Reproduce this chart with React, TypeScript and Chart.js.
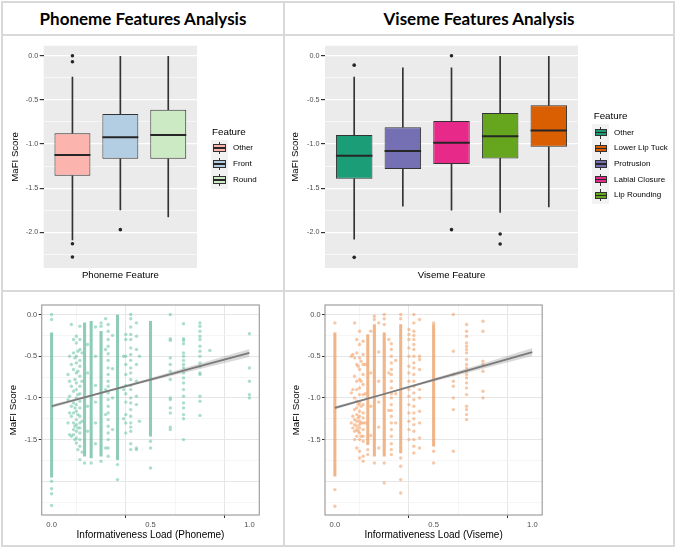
import React, { useEffect, useRef } from 'react';
import { Chart, registerables } from 'chart.js';

Chart.register(...registerables);

// ---------------- Box plot data ----------------
const PHONEME_CATEGORIES = ['Other', 'Front', 'Round'];
const PHONEME_COLORS = ['#FBB4AE', '#B3CDE3', '#CCEBC5'];
const PHONEME_Q1 = [-1.359, -1.167, -1.167];
const PHONEME_MEDIAN = [-1.125, -0.922, -0.896];
const PHONEME_Q3 = [-0.877, -0.659, -0.61];
const PHONEME_WHISKER_LO = [-2.085, -1.746, -1.825];
const PHONEME_WHISKER_HI = [-0.24, 0.0, 0.0];
const PHONEME_OUTLIERS = [[0.0, -0.068, -2.13, -2.28], [-1.97], []];

const VISEME_CATEGORIES = ['Other', 'Protrusion', 'Labial Closure', 'Lip Rounding', 'Lower Lip Tuck'];
const VISEME_COLORS = ['#1B9E77', '#7570B3', '#E7298A', '#66A61E', '#D95F02'];
const VISEME_Q1 = [-1.393, -1.283, -1.227, -1.163, -1.031];
const VISEME_MEDIAN = [-1.133, -1.08, -0.986, -0.911, -0.847];
const VISEME_Q3 = [-0.896, -0.809, -0.738, -0.647, -0.561];
const VISEME_WHISKER_LO = [-2.077, -1.705, -1.75, -1.776, -1.712];
const VISEME_WHISKER_HI = [-0.241, -0.135, -0.135, 0.0, 0.0];
const VISEME_OUTLIERS = [[-0.106, -2.284], [], [0.0, -1.97], [-2.02, -2.133], []];

const PHONEME_LEGEND = ['Other', 'Front', 'Round'];
const PHONEME_LEGEND_COLORS = ['#FBB4AE', '#B3CDE3', '#CCEBC5'];
const VISEME_LEGEND = ['Other', 'Lower Lip Tuck', 'Protrusion', 'Labial Closure', 'Lip Rounding'];
const VISEME_LEGEND_COLORS = ['#1B9E77', '#D95F02', '#7570B3', '#E7298A', '#66A61E'];

// ---------------- Axis ticks ----------------
const SCORE_GRID = [0, -0.25, -0.5, -0.75, -1, -1.25, -1.5, -1.75, -2, -2.25];
const BOX_SCORE_LABELS = [0, -0.5, -1, -1.5, -2];
const SCATTER_SCORE_LABELS = [0, -0.5, -1, -1.5];
const LOAD_GRID = [0, 0.25, 0.5, 0.75, 1];
const LOAD_LABELS = [0, 0.5, 1];

// ---------------- Scatter data: phoneme ----------------
const PH_DENSE_X = [0, 0.1667, 0.2, 0.25, 0.3333, 0.5];
const PH_DENSE_LO = [-1.95, -1.7, -1.72, -1.7, -1.74, -1.46];
const PH_DENSE_HI = [-0.22, -0.1, -0.08, -0.2, 0.0, -0.08];
const PH_COL_X = [0, 0.083, 0.091, 0.1, 0.111, 0.118, 0.125, 0.133, 0.143, 0.154, 0.1667, 0.182, 0.2, 0.222, 0.25, 0.273, 0.286, 0.308, 0.3333, 0.364, 0.375, 0.4, 0.429, 0.444, 0.5, 0.6, 0.667, 0.75, 0.8, 1.0];
const PH_COL_Y = [
  [0.0, -0.06, -2.0, -2.09, -2.15, -2.29],
  [-0.72, -1.02, -1.3],
  [-0.5, -0.8, -0.98, -1.18, -1.44],
  [-0.12, -0.6, -0.86, -1.1, -1.22, -1.46],
  [-0.3, -0.46, -0.66, -0.92, -1.06, -1.18, -1.3, -1.38, -1.44],
  [-0.52, -0.78, -1.12, -1.34, -1.5],
  [-0.26, -0.34, -0.5, -0.58, -0.7, -0.82, -0.9, -1.0, -1.08, -1.16, -1.26, -1.32, -1.4, -1.48, -1.54],
  [-0.44, -0.68, -0.96, -1.2, -1.36, -1.62],
  [-0.14, -0.3, -0.42, -0.55, -0.62, -0.74, -0.86, -0.95, -1.04, -1.12, -1.22, -1.3, -1.36, -1.42, -1.5, -1.58, -1.74],
  [-0.46, -0.8, -1.28, -1.65],
  [-1.78],
  [-0.36, -0.7, -1.1, -1.4],
  [-1.78],
  [-0.15, -0.5, -0.85, -1.05, -1.3, -1.55],
  [-0.1, -0.14, -1.76],
  [-0.05, -0.42, -0.9, -1.2, -1.6],
  [-0.12, -0.2, -0.3, -0.38, -0.47, -0.55, -0.64, -0.72, -0.8, -0.86, -0.94, -1.02, -1.1, -1.18, -1.26, -1.34, -1.42, -1.5, -1.6, -1.7],
  [-0.25, -0.65, -1.0, -1.38],
  [-1.8, -1.98],
  [-0.5, -0.9, -1.25],
  [-0.24, -0.3, -0.5, -0.6, -0.72, -0.85, -0.95, -1.05, -1.2, -1.3, -1.42],
  [0.0, -0.05, -0.15, -0.24, -0.3, -0.4, -0.48, -0.55, -0.64, -0.7, -0.78, -0.85, -0.9, -1.0, -1.06, -1.14, -1.22, -1.3, -1.35, -1.4, -1.55, -1.62],
  [-0.1, -0.26, -0.42, -0.6, -0.8, -0.98, -1.08, -1.6, -1.62],
  [-0.5, -1.28],
  [-1.52, -1.6, -1.84],
  [0.0, -0.29, -0.31, -0.52, -0.6, -0.68, -0.78, -1.0, -1.02, -1.12, -1.18, -1.35, -1.38],
  [-0.11, -0.29, -0.31, -0.35, -0.46, -0.5, -0.55, -0.6, -0.64, -0.7, -0.76, -0.82, -0.9, -0.98, -1.06, -1.12, -1.2, -1.25, -1.5],
  [-0.1, -0.14, -0.2, -0.26, -0.3, -0.38, -0.44, -0.5, -0.58, -0.62, -0.7, -0.72, -0.98, -1.04, -1.21],
  [-0.43],
  [-0.23, -0.64, -0.8, -0.96, -1.0],
];
const FIT_X = [0, 0.25, 0.5, 0.75, 1];
const PH_FIT = [-1.1, -0.94, -0.78, -0.62, -0.46];
const PH_CI_LO = [-1.12, -0.95, -0.798, -0.652, -0.508];
const PH_CI_HI = [-1.08, -0.93, -0.762, -0.588, -0.412];

// ---------------- Scatter data: viseme ----------------
const VI_DENSE_X = [0, 0.1667, 0.2, 0.25, 0.3333, 0.5];
const VI_DENSE_LO = [-1.94, -1.56, -1.7, -1.7, -1.66, -1.58];
const VI_DENSE_HI = [-0.22, -0.24, -0.12, -0.22, -0.12, -0.12];
const VI_COL_X = [0, 0.083, 0.091, 0.1, 0.111, 0.118, 0.125, 0.133, 0.143, 0.154, 0.1667, 0.182, 0.2, 0.222, 0.25, 0.273, 0.286, 0.308, 0.3333, 0.375, 0.4, 0.429, 0.5, 0.6, 0.667, 0.75];
const VI_COL_Y = [
  [-0.1, -2.1, -2.3],
  [-0.5, -0.94, -1.3],
  [-0.48, -0.9, -1.22, -1.36],
  [-0.1, -0.52, -0.74, -1.0, -1.14, -1.26, -1.32, -1.4, -1.5],
  [-0.3, -0.46, -0.6, -0.8, -0.9, -1.04, -1.12, -1.2, -1.28, -1.34, -1.38, -1.46, -1.6],
  [-0.62, -1.08, -1.24, -1.4],
  [-0.2, -0.36, -0.52, -0.66, -0.78, -0.88, -0.96, -1.06, -1.16, -1.22, -1.28, -1.32, -1.36, -1.42, -1.5, -1.64, -1.72],
  [-0.56, -0.8, -1.1, -1.3, -1.46],
  [-0.32, -0.48, -0.6, -0.72, -0.84, -0.96, -1.08, -1.18, -1.24, -1.3, -1.38, -1.46, -1.52, -1.7, -1.76],
  [-0.6, -0.95, -1.3],
  [-1.62, -1.68],
  [-0.2, -0.7, -1.1, -1.45],
  [-0.02, -0.06, -1.78],
  [-0.1, -0.45, -0.8, -1.05, -1.35, -1.6],
  [0.0, -0.05, -0.12, -1.78, -2.02],
  [-0.3, -0.7, -1.15],
  [-0.35, -0.42, -0.5, -0.58, -0.66, -0.72, -0.8, -0.88, -0.95, -1.0, -1.08, -1.15, -1.22, -1.3, -1.38, -1.46, -1.55, -1.62, -1.68],
  [-0.55, -0.95, -1.3],
  [0.0, -0.05, -1.72, -1.82, -1.98, -2.14],
  [-0.18, -0.24, -0.3, -0.4, -0.5, -0.62, -0.7, -0.8, -0.9, -0.98, -1.08, -1.18, -1.28, -1.38, -1.5],
  [0.0, -0.1, -0.2, -0.25, -0.3, -0.36, -0.42, -0.5, -0.58, -0.64, -0.72, -0.8, -0.86, -0.94, -1.02, -1.1, -1.18, -1.25, -1.32, -1.4, -1.5, -1.58, -1.66],
  [-0.06, -0.5, -0.54, -0.66, -0.9, -1.0, -1.16, -1.3, -1.48, -1.6],
  [-0.1, -1.64, -1.78],
  [0.0, -0.44, -0.72, -0.8, -0.86, -1.0, -1.14, -1.64],
  [-0.12, -0.2, -0.26, -0.34, -0.38, -0.42, -0.46, -0.54, -0.6, -0.64, -0.68, -0.72, -0.76, -0.82, -0.88, -0.96, -1.1, -1.14, -1.2, -1.26],
  [-0.08, -0.2, -0.56, -0.6, -0.68, -0.92, -1.0],
];
const VI_FIT = [-1.12, -0.953, -0.785, -0.618, -0.45];
const VI_CI_LO = [-1.14, -0.963, -0.803, -0.65, -0.498];
const VI_CI_HI = [-1.1, -0.943, -0.767, -0.586, -0.402];

// ---------------- helpers ----------------
const FONT = "'Liberation Sans', Arial, sans-serif";
const SCORE_MIN = -2.4045;
const SCORE_MAX = 0.1145;
const near = (a: number, b: number) => Math.abs(a - b) < 1e-9;
const inList = (list: number[], v: number) => list.some((l) => near(l, v));
const isHalf = (v: number) => Math.abs(v * 2 - Math.round(v * 2)) < 1e-6;
const tickVal = (c: any) => (c && c.tick ? c.tick.value : NaN);

const panelBg = {
  id: 'panelBg',
  beforeDraw(chart: any, _a: any, opts: any) {
    if (!opts || !opts.color) return;
    const { ctx, chartArea: a } = chart;
    ctx.save();
    ctx.fillStyle = opts.color;
    ctx.fillRect(a.left, a.top, a.right - a.left, a.bottom - a.top);
    ctx.restore();
  },
  afterDraw(chart: any, _a: any, opts: any) {
    if (!opts || !opts.border) return;
    const { ctx, chartArea: a } = chart;
    ctx.save();
    ctx.strokeStyle = opts.border;
    ctx.lineWidth = 1.2;
    ctx.strokeRect(a.left, a.top, a.right - a.left, a.bottom - a.top);
    ctx.restore();
  },
};

function boxConfig(o: any) {
  const xs = o.cats.map((_: string, i: number) => i + 1);
  const n = o.cats.length;
  const halfBox = (ctx: any) => {
    const s = ctx.chart.scales.x;
    if (!s) return 18;
    return Math.abs(s.getPixelForValue(1.375) - s.getPixelForValue(1));
  };
  return {
    type: 'scatter',
    data: {
      datasets: [
        {
          type: 'scatter',
          data: xs.map((x: number, i: number) => ({ x, y: o.med[i] })),
          pointStyle: 'line',
          pointRadius: halfBox,
          pointBorderColor: '#262626',
          pointBorderWidth: 2,
          pointBackgroundColor: '#262626',
        },
        {
          type: 'scatter',
          data: o.outliers.flatMap((arr: number[], i: number) => arr.map((y) => ({ x: i + 1, y }))),
          pointRadius: 1.8,
          pointBackgroundColor: '#262626',
          pointBorderWidth: 0,
        },
        {
          type: 'bar',
          data: xs.map((x: number, i: number) => ({ x, y: [o.q1[i], o.q3[i]] })),
          backgroundColor: o.colors,
          borderColor: '#333333',
          borderWidth: 1,
          borderSkipped: false,
          grouped: false,
          categoryPercentage: 1,
          barPercentage: 0.75,
        },
        {
          type: 'bar',
          data: xs.map((x: number, i: number) => ({ x, y: [o.lo[i], o.q1[i]] })),
          backgroundColor: '#333333',
          barThickness: 1,
          grouped: false,
        },
        {
          type: 'bar',
          data: xs.map((x: number, i: number) => ({ x, y: [o.q3[i], o.hi[i]] })),
          backgroundColor: '#333333',
          barThickness: 1,
          grouped: false,
        },
      ],
    },
    options: {
      responsive: false,
      animation: false,
      devicePixelRatio: 1,
      events: [],
      layout: { padding: { left: 0, top: 10.7, right: o.padRight, bottom: 0 } },
      plugins: {
        legend: { display: false },
        tooltip: { enabled: false },
        panelBg: { color: '#EBEBEB' },
      },
      scales: {
        x: {
          type: 'linear',
          min: 0.4,
          max: n + 0.6,
          offset: false,
          afterBuildTicks: (s: any) => {
            s.ticks = xs.map((v: number) => ({ value: v }));
          },
          afterFit: (s: any) => {
            s.height = 22;
          },
          ticks: { display: false },
          grid: { display: false },
          border: { display: false },
          title: {
            display: true,
            text: o.xTitle,
            color: '#000',
            font: { family: FONT, size: 9.6 },
            padding: { top: 0, bottom: 9.2 },
          },
        },
        y: {
          type: 'linear',
          min: SCORE_MIN,
          max: SCORE_MAX,
          stacked: false,
          afterBuildTicks: (s: any) => {
            s.ticks = SCORE_GRID.map((v) => ({ value: v }));
          },
          afterFit: (s: any) => {
            s.width = o.yWidth;
          },
          ticks: {
            autoSkip: false,
            padding: 1.5,
            color: '#4D4D4D',
            font: { family: FONT, size: 7.2 },
            callback: (v: number) => (inList(BOX_SCORE_LABELS, v) ? v.toFixed(1) : ''),
          },
          grid: {
            color: '#FFFFFF',
            lineWidth: (c: any) => (isHalf(tickVal(c)) ? 1.2 : 0.6),
            tickLength: 4,
            tickColor: (c: any) => (inList(BOX_SCORE_LABELS, tickVal(c)) ? '#333333' : 'rgba(0,0,0,0)'),
          },
          border: { display: false },
          title: {
            display: true,
            text: 'MaFI Score',
            color: '#000',
            font: { family: FONT, size: 9.6 },
            padding: { top: o.yTitlePad, bottom: 0 },
          },
        },
      },
    },
    plugins: [panelBg],
  };
}

function scatterConfig(o: any) {
  const pts = o.colX.flatMap((x: number, i: number) => o.colY[i].map((y: number) => ({ x, y })));
  return {
    type: 'scatter',
    data: {
      datasets: [
        {
          type: 'line',
          data: FIT_X.map((x, i) => ({ x, y: o.fit[i] })),
          borderColor: '#7A7A7A',
          borderWidth: 1.8,
          pointRadius: 0,
          fill: false,
        },
        {
          type: 'line',
          data: FIT_X.map((x, i) => ({ x, y: o.ciHi[i] })),
          borderColor: 'rgba(0,0,0,0)',
          borderWidth: 1,
          pointRadius: 0,
          fill: '+1',
          backgroundColor: 'rgba(150,150,150,0.35)',
        },
        {
          type: 'line',
          data: FIT_X.map((x, i) => ({ x, y: o.ciLo[i] })),
          borderColor: 'rgba(0,0,0,0)',
          borderWidth: 1,
          pointRadius: 0,
          fill: false,
        },
        {
          type: 'scatter',
          data: pts,
          pointRadius: 1.7,
          pointBackgroundColor: o.pointColor,
          pointBorderWidth: 0,
        },
        {
          type: 'bar',
          data: o.denseX.map((x: number, i: number) => ({ x, y: [o.denseLo[i], o.denseHi[i]] })),
          backgroundColor: o.denseColor,
          barThickness: 2.4,
          grouped: false,
          borderWidth: 0,
        },
      ],
    },
    options: {
      responsive: false,
      animation: false,
      devicePixelRatio: 1,
      events: [],
      layout: { padding: { left: 0, top: 14, right: o.padRight, bottom: 0 } },
      plugins: {
        legend: { display: false },
        tooltip: { enabled: false },
        panelBg: { border: '#A0A0A0' },
      },
      scales: {
        x: {
          type: 'linear',
          min: -0.05,
          max: 1.05,
          offset: false,
          afterBuildTicks: (s: any) => {
            s.ticks = LOAD_GRID.map((v) => ({ value: v }));
          },
          afterFit: (s: any) => {
            s.height = 30;
          },
          ticks: {
            autoSkip: false,
            maxRotation: 0,
            padding: 2,
            color: '#4D4D4D',
            font: { family: FONT, size: 7.6 },
            callback: (v: number) => (inList(LOAD_LABELS, v) ? v.toFixed(1) : ''),
          },
          grid: {
            color: (c: any) => (inList(LOAD_LABELS, tickVal(c)) ? '#E6E6E6' : '#F1F1F1'),
            lineWidth: (c: any) => (inList(LOAD_LABELS, tickVal(c)) ? 1 : 0.7),
            tickLength: 3,
            tickColor: (c: any) => (inList(LOAD_LABELS, tickVal(c)) ? '#333333' : 'rgba(0,0,0,0)'),
          },
          border: { display: false },
          title: {
            display: true,
            text: o.xTitle,
            color: '#000',
            font: { family: FONT, size: 10 },
            padding: { top: 0, bottom: 4 },
          },
        },
        y: {
          type: 'linear',
          min: SCORE_MIN,
          max: SCORE_MAX,
          stacked: false,
          afterBuildTicks: (s: any) => {
            s.ticks = SCORE_GRID.map((v) => ({ value: v }));
          },
          afterFit: (s: any) => {
            s.width = o.yWidth;
          },
          ticks: {
            autoSkip: false,
            padding: 1.5,
            color: '#4D4D4D',
            font: { family: FONT, size: 7.4 },
            callback: (v: number) => (inList(SCATTER_SCORE_LABELS, v) ? v.toFixed(1) : ''),
          },
          grid: {
            color: (c: any) => (isHalf(tickVal(c)) ? '#E6E6E6' : '#F1F1F1'),
            lineWidth: (c: any) => (isHalf(tickVal(c)) ? 1 : 0.7),
            tickLength: 3,
            tickColor: (c: any) => (inList(SCATTER_SCORE_LABELS, tickVal(c)) ? '#333333' : 'rgba(0,0,0,0)'),
          },
          border: { display: false },
          title: {
            display: true,
            text: 'MaFI Score',
            color: '#000',
            font: { family: FONT, size: 9.8 },
            padding: { top: o.yTitlePad, bottom: 0 },
          },
        },
      },
    },
    plugins: [panelBg],
  };
}

function ChartCanvas({ left, top, width, height, config }: any) {
  const ref = useRef<HTMLCanvasElement | null>(null);
  useEffect(() => {
    if (!ref.current) return;
    let chart: any = null;
    try {
      chart = new Chart(ref.current, config);
    } catch (e) {
      console.error(e);
    }
    return () => {
      if (chart) chart.destroy();
    };
  }, []);
  return (
    <canvas
      ref={ref}
      width={width}
      height={height}
      style={{ position: 'absolute', left, top, width, height }}
    />
  );
}

function BoxLegend({ titleLeft, titleCenter, keyLeft, labelLeft, centers, labels, colors }: any) {
  return (
    <>
      <div
        style={{
          position: 'absolute',
          left: titleLeft,
          top: titleCenter - 6,
          fontSize: 9.8,
          lineHeight: '12px',
          color: '#000',
          whiteSpace: 'nowrap',
        }}
      >
        Feature
      </div>
      {labels.map((lab: string, i: number) => {
        const c = centers[i];
        return (
          <React.Fragment key={lab}>
            <div style={{ position: 'absolute', left: keyLeft - 2.3, top: c - 8.5, width: 17, height: 17, background: '#F2F2F2' }} />
            <div style={{ position: 'absolute', left: keyLeft + 5.7, top: c - 6, width: 1, height: 12, background: '#333' }} />
            <div
              style={{
                position: 'absolute',
                left: keyLeft,
                top: c - 3.7,
                width: 12.4,
                height: 7.4,
                background: colors[i],
                border: '1px solid #333',
                boxSizing: 'border-box',
              }}
            />
            <div style={{ position: 'absolute', left: keyLeft, top: c - 0.6, width: 12.4, height: 1.2, background: '#262626' }} />
            <div
              style={{
                position: 'absolute',
                left: labelLeft,
                top: c - 5,
                fontSize: 8,
                lineHeight: '10px',
                color: '#000',
                whiteSpace: 'nowrap',
              }}
            >
              {lab}
            </div>
          </React.Fragment>
        );
      })}
    </>
  );
}

const LINE = '#D9D9D9';

export default function App() {
  const phonemeBox = boxConfig({
    cats: PHONEME_CATEGORIES,
    colors: PHONEME_COLORS,
    q1: PHONEME_Q1,
    med: PHONEME_MEDIAN,
    q3: PHONEME_Q3,
    lo: PHONEME_WHISKER_LO,
    hi: PHONEME_WHISKER_HI,
    outliers: PHONEME_OUTLIERS,
    xTitle: 'Phoneme Feature',
    padRight: 87,
    yWidth: 43.7,
    yTitlePad: 9.2,
  });
  const visemeBox = boxConfig({
    cats: VISEME_CATEGORIES,
    colors: VISEME_COLORS,
    q1: VISEME_Q1,
    med: VISEME_MEDIAN,
    q3: VISEME_Q3,
    lo: VISEME_WHISKER_LO,
    hi: VISEME_WHISKER_HI,
    outliers: VISEME_OUTLIERS,
    xTitle: 'Viseme Feature',
    padRight: 95,
    yWidth: 41,
    yTitlePad: 5.2,
  });
  const phonemeScatter = scatterConfig({
    denseX: PH_DENSE_X,
    denseLo: PH_DENSE_LO,
    denseHi: PH_DENSE_HI,
    colX: PH_COL_X,
    colY: PH_COL_Y,
    fit: PH_FIT,
    ciLo: PH_CI_LO,
    ciHi: PH_CI_HI,
    pointColor: 'rgba(102,194,165,0.55)',
    denseColor: 'rgba(95,182,152,0.7)',
    xTitle: 'Informativeness Load (Phoneme)',
    padRight: 24.7,
    yWidth: 41.7,
    yTitlePad: 7.2,
  });
  const visemeScatter = scatterConfig({
    denseX: VI_DENSE_X,
    denseLo: VI_DENSE_LO,
    denseHi: VI_DENSE_HI,
    colX: VI_COL_X,
    colY: VI_COL_Y,
    fit: VI_FIT,
    ciLo: VI_CI_LO,
    ciHi: VI_CI_HI,
    pointColor: 'rgba(240,155,95,0.55)',
    denseColor: 'rgba(234,152,90,0.72)',
    xTitle: 'Informativeness Load (Viseme)',
    padRight: 130.8,
    yWidth: 41,
    yTitlePad: 6.2,
  });

  const titleStyle: any = {
    position: 'absolute',
    top: 3,
    height: 31,
    display: 'flex',
    alignItems: 'center',
    justifyContent: 'center',
    fontFamily: "Lato, 'Open Sans', sans-serif",
    fontWeight: 700,
    fontSize: 17,
    color: '#000',
    whiteSpace: 'nowrap',
  };

  return (
    <div
      style={{
        position: 'fixed',
        left: 0,
        top: 0,
        width: 676,
        height: 547,
        background: '#FFFFFF',
        fontFamily: FONT,
        overflow: 'hidden',
      }}
    >
      <div
        style={{
          position: 'absolute',
          left: 1,
          top: 1,
          width: 674,
          height: 546,
          border: `2px solid ${LINE}`,
          boxSizing: 'border-box',
        }}
      />
      <div style={{ position: 'absolute', left: 283, top: 1, width: 2, height: 546, background: LINE }} />
      <div style={{ position: 'absolute', left: 1, top: 34, width: 674, height: 2, background: LINE }} />
      <div style={{ position: 'absolute', left: 1, top: 290, width: 674, height: 2, background: LINE }} />

      <div style={{ ...titleStyle, left: 3, width: 280 }}>Phoneme Features Analysis</div>
      <div style={{ ...titleStyle, left: 285, width: 388 }}>Viseme Features Analysis</div>

      <ChartCanvas left={0} top={35} width={284} height={255} config={phonemeBox} />
      <ChartCanvas left={284} top={35} width={389} height={255} config={visemeBox} />
      <ChartCanvas left={0} top={291} width={284} height={254} config={phonemeScatter} />
      <ChartCanvas left={284} top={291} width={389} height={254} config={visemeScatter} />

      <BoxLegend
        titleLeft={212}
        titleCenter={131.7}
        keyLeft={213.3}
        labelLeft={233}
        centers={[148, 164, 180]}
        labels={PHONEME_LEGEND}
        colors={PHONEME_LEGEND_COLORS}
      />
      <BoxLegend
        titleLeft={593.7}
        titleCenter={116}
        keyLeft={594.7}
        labelLeft={614}
        centers={[132.7, 148.3, 164, 179.7, 195.3]}
        labels={VISEME_LEGEND}
        colors={VISEME_LEGEND_COLORS}
      />
    </div>
  );
}
